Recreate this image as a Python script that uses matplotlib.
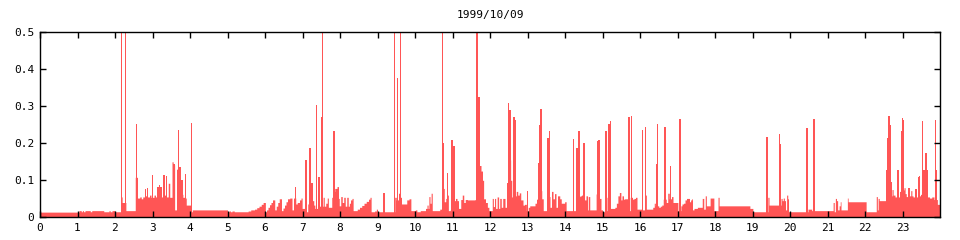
import numpy as np
import matplotlib
matplotlib.use("Agg")
import matplotlib.pyplot as plt

TITLE = "1999/10/09"
COLOR = "#ff5555"

# baseline: step level held from each hour until the next one
base_t = [0.00, 1.04, 1.10, 1.13, 1.16, 1.20, 1.34, 1.38, 1.70, 1.84, 1.87, 1.92, 2.00,
          2.15, 2.19, 2.29, 2.54, 2.60, 2.66, 2.70, 2.74, 2.80, 2.86, 2.92, 2.96, 3.04,
          3.08, 3.12, 3.16, 3.24, 3.30, 3.36, 3.42, 3.46, 3.52, 3.55, 3.59, 3.64, 3.67,
          3.72, 3.76, 3.78, 3.81, 3.86, 3.90, 4.02, 4.06, 5.00, 5.04, 5.08, 5.12, 5.18,
          5.55, 5.62, 5.72, 5.78, 5.84, 5.90, 5.95, 6.01, 6.04, 6.08, 6.12, 6.16, 6.20,
          6.26, 6.30, 6.34, 6.38, 6.44, 6.48, 6.52, 6.56, 6.60, 6.66, 6.72, 6.76, 6.82,
          6.86, 6.92, 6.96, 6.99, 7.10, 7.14, 7.17, 7.22, 7.26, 7.30, 7.33, 7.40, 7.45,
          7.55, 7.58, 7.62, 7.66, 7.69, 7.78, 7.80, 7.86, 7.92, 7.96, 7.98, 8.02, 8.06,
          8.10, 8.14, 8.18, 8.22, 8.25, 8.28, 8.32, 8.35, 8.46, 8.52, 8.58, 8.64, 8.70,
          8.76, 8.80, 8.83, 8.92, 8.97, 9.00, 9.46, 9.50, 9.56, 9.59, 9.64, 9.78, 9.84,
          9.89, 10.01, 10.05, 10.14, 10.28, 10.32, 10.35, 10.37, 10.40, 10.43, 10.46,
          10.66, 10.74, 10.78, 10.82, 10.86, 10.89, 10.94, 10.99, 11.04, 11.08, 11.12,
          11.16, 11.22, 11.26, 11.30, 11.34, 11.40, 11.60, 11.64, 11.68, 11.72, 11.76,
          11.80, 11.83, 11.88, 11.93, 11.97, 12.06, 12.09, 12.12, 12.15, 12.19, 12.23,
          12.26, 12.30, 12.34, 12.40, 12.44, 12.48, 12.55, 12.58, 12.62, 12.70, 12.74,
          12.78, 12.82, 12.88, 12.92, 12.97, 13.02, 13.06, 13.20, 13.24, 13.27, 13.38,
          13.42, 13.56, 13.60, 13.64, 13.68, 13.72, 13.76, 13.80, 13.86, 13.90, 13.99,
          14.03, 14.33, 14.40, 14.44, 14.48, 14.52, 14.56, 14.60, 14.62, 14.66, 14.83,
          14.86, 14.92, 14.96, 15.00, 15.06, 15.12, 15.20, 15.33, 15.37, 15.41, 15.45,
          15.49, 15.52, 15.56, 15.59, 15.70, 15.74, 15.80, 15.84, 15.88, 15.92, 16.06,
          16.12, 16.17, 16.34, 16.38, 16.41, 16.50, 16.54, 16.58, 16.62, 16.66, 16.70,
          16.74, 16.78, 16.84, 16.88, 17.01, 17.09, 17.12, 17.16, 17.20, 17.24, 17.28,
          17.32, 17.35, 17.38, 17.40, 17.44, 17.53, 17.66, 17.70, 17.74, 17.77, 17.87,
          17.97, 18.08, 18.11, 18.93, 19.01, 19.41, 19.44, 19.76, 19.79, 19.82, 19.85,
          19.88, 19.91, 19.94, 19.96, 20.48, 20.58, 21.15, 21.18, 21.21, 21.24, 21.27,
          21.31, 21.34, 21.36, 21.53, 21.55, 22.03, 22.30, 22.33, 22.35, 22.38, 22.57,
          22.72, 22.75, 22.80, 22.84, 22.87, 22.92, 22.96, 23.04, 23.07, 23.10, 23.14,
          23.18, 23.22, 23.25, 23.28, 23.32, 23.36, 23.40, 23.44, 23.48, 23.52, 23.58,
          23.66, 23.72, 23.78, 23.84, 23.93, 24.00]
base_v = [0.014, 0.018, 0.015, 0.018, 0.015, 0.018, 0.015, 0.018, 0.015, 0.018, 0.015, 0.018, 0.015,
          0.055, 0.040, 0.018, 0.108, 0.052, 0.055, 0.050, 0.055, 0.058, 0.055, 0.060, 0.054, 0.060,
          0.055, 0.075, 0.060, 0.055, 0.060, 0.055, 0.092, 0.054, 0.150, 0.142, 0.020, 0.130, 0.060,
          0.065, 0.055, 0.062, 0.054, 0.052, 0.033, 0.015, 0.020, 0.015, 0.017, 0.015, 0.017, 0.015,
          0.017, 0.020, 0.022, 0.026, 0.030, 0.035, 0.040, 0.015, 0.020, 0.027, 0.034, 0.040, 0.047,
          0.020, 0.030, 0.040, 0.050, 0.018, 0.025, 0.033, 0.042, 0.050, 0.052, 0.020, 0.052, 0.036,
          0.040, 0.047, 0.052, 0.024, 0.015, 0.036, 0.067, 0.055, 0.045, 0.033, 0.024, 0.020, 0.030,
          0.054, 0.030, 0.038, 0.052, 0.027, 0.054, 0.070, 0.078, 0.083, 0.051, 0.031, 0.056, 0.040,
          0.054, 0.030, 0.054, 0.030, 0.038, 0.047, 0.051, 0.018, 0.022, 0.027, 0.032, 0.038, 0.043,
          0.049, 0.054, 0.015, 0.017, 0.022, 0.015, 0.054, 0.047, 0.065, 0.054, 0.036, 0.047, 0.050,
          0.018, 0.020, 0.015, 0.018, 0.024, 0.033, 0.024, 0.056, 0.038, 0.065, 0.018,
          0.022, 0.078, 0.042, 0.051, 0.060, 0.018, 0.020, 0.051, 0.045, 0.051, 0.045,
          0.024, 0.048, 0.060, 0.040, 0.048, 0.047, 0.048, 0.150, 0.130, 0.140, 0.125,
          0.100, 0.050, 0.040, 0.027, 0.018, 0.051, 0.029, 0.051, 0.024, 0.055, 0.024,
          0.051, 0.027, 0.051, 0.027, 0.094, 0.155, 0.100, 0.055, 0.058, 0.070, 0.060,
          0.066, 0.047, 0.033, 0.035, 0.018, 0.027, 0.031, 0.038, 0.049, 0.072, 0.050,
          0.018, 0.056, 0.027, 0.070, 0.050, 0.064, 0.027, 0.058, 0.050, 0.038, 0.042,
          0.018, 0.056, 0.058, 0.060, 0.033, 0.047, 0.058, 0.020, 0.056, 0.020, 0.063,
          0.050, 0.051, 0.020, 0.015, 0.018, 0.054, 0.024, 0.027, 0.038, 0.058, 0.067,
          0.047, 0.058, 0.049, 0.050, 0.018, 0.054, 0.049, 0.051, 0.054, 0.022, 0.020,
          0.060, 0.022, 0.027, 0.038, 0.031, 0.027, 0.030, 0.033, 0.049, 0.049, 0.040,
          0.065, 0.050, 0.056, 0.040, 0.018, 0.031, 0.036, 0.038, 0.047, 0.051, 0.051,
          0.042, 0.047, 0.050, 0.020, 0.024, 0.027, 0.051, 0.022, 0.058, 0.031, 0.052,
          0.018, 0.054, 0.031, 0.024, 0.015, 0.054, 0.033, 0.051, 0.045, 0.052, 0.045,
          0.020, 0.060, 0.050, 0.015, 0.022, 0.018, 0.040, 0.015, 0.051, 0.045, 0.020,
          0.031, 0.042, 0.020, 0.052, 0.042, 0.015, 0.056, 0.020, 0.051, 0.045, 0.058,
          0.075, 0.060, 0.055, 0.062, 0.055, 0.070, 0.074, 0.080, 0.064, 0.056, 0.065,
          0.058, 0.072, 0.058, 0.055, 0.062, 0.055, 0.076, 0.058, 0.062, 0.065, 0.060,
          0.055, 0.052, 0.055, 0.048, 0.035, 0.035]

# narrow spikes (values > 0.5 run off the top of the plot)
spike_t = [2.17, 2.28, 2.58, 2.82, 2.86, 3.00, 3.15, 3.19, 3.23, 3.31, 3.37, 3.57, 3.70,
           3.73, 3.79, 3.88, 4.04, 6.82, 7.09, 7.20, 7.25, 7.37, 7.44, 7.50, 7.53, 7.84,
           9.17, 9.45, 9.54, 9.61, 10.73, 10.76, 10.86, 10.99, 11.04, 11.65, 11.71, 12.50,
           12.53, 12.62, 12.65, 12.68, 13.00, 13.30, 13.33, 13.36, 13.55, 13.58, 14.22,
           14.32, 14.37, 14.51, 14.88, 14.91, 15.09, 15.17, 15.22, 15.71, 15.78, 16.07,
           16.14, 16.44, 16.47, 16.67, 16.81, 17.07, 19.39, 19.72, 19.75, 20.45, 20.64,
           22.59, 22.61, 22.64, 22.67, 22.70, 22.88, 22.97, 23.00, 23.03, 23.17, 23.36,
           23.42, 23.46, 23.53, 23.57, 23.63, 23.66, 23.88, 23.90]
spike_v = [0.60, 0.60, 0.252, 0.077, 0.080, 0.114, 0.083, 0.087, 0.082, 0.113, 0.112, 0.145, 0.237,
           0.135, 0.100, 0.117, 0.255, 0.083, 0.155, 0.187, 0.093, 0.303, 0.108, 0.272, 0.60, 0.233,
           0.065, 0.60, 0.377, 0.60, 0.60, 0.200, 0.121, 0.210, 0.193, 0.60, 0.325, 0.308,
           0.290, 0.270, 0.270, 0.262, 0.070, 0.146, 0.250, 0.293, 0.215, 0.232, 0.212,
           0.187, 0.233, 0.200, 0.207, 0.210, 0.232, 0.252, 0.260, 0.270, 0.275, 0.236,
           0.245, 0.144, 0.252, 0.245, 0.139, 0.265, 0.218, 0.225, 0.198, 0.242, 0.265,
           0.128, 0.213, 0.274, 0.250, 0.096, 0.128, 0.234, 0.268, 0.262, 0.080, 0.076,
           0.110, 0.112, 0.260, 0.128, 0.175, 0.128, 0.262, 0.128]

hours = list(range(24))
yticks = [0, 0.1, 0.2, 0.3, 0.4, 0.5]
ylabels = ["0", "0.1", "0.2", "0.3", "0.4", "0.5"]

fig = plt.figure(figsize=(9.6, 2.4), dpi=100)
ax = fig.add_axes([40 / 960, 1 - 217.3 / 240, 900 / 960, 185 / 240])
ax.fill_between(base_t, base_v, step="post", color=COLOR, lw=0, antialiased=False)
ax.bar(spike_t, spike_v, width=0.036, color=COLOR, lw=0)

ax.set_xlim(0, 24)
ax.set_ylim(0, 0.5)
ax.set_xticks(hours)
ax.set_yticks(yticks)
ax.set_yticklabels(ylabels)
ax.tick_params(direction="in", length=4, width=1, top=True, right=True,
               labelsize=8, pad=4, colors="black")
for lab in ax.get_xticklabels() + ax.get_yticklabels():
    lab.set_family("DejaVu Sans Mono")
for s in ax.spines.values():
    s.set_linewidth(1)
ax.set_title(TITLE, fontsize=8, family="DejaVu Sans Mono", pad=10)

fig.savefig("out.png", dpi=100)
